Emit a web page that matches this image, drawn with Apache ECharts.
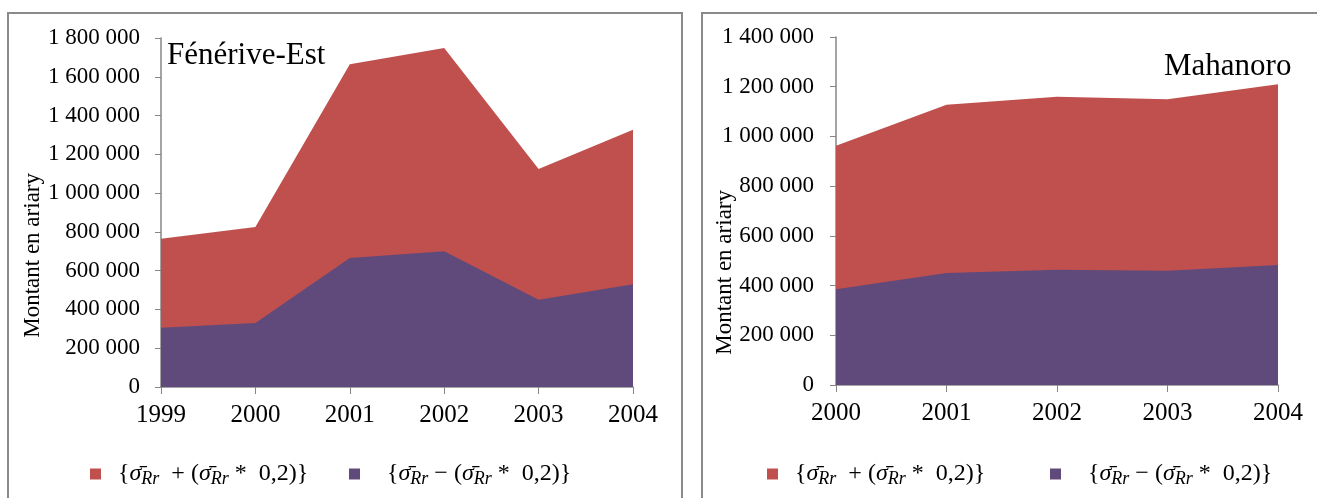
<!DOCTYPE html>
<html>
<head>
<meta charset="utf-8">
<script src="https://cdn.jsdelivr.net/npm/echarts@6/dist/echarts.min.js"></script>
<style>
  body { margin:0; background:#fff; width:1317px; height:498px; overflow:hidden; position:relative; }
  .panel { position:absolute; border:2px solid #8a8a8a; background:#fff; }
  #left { left:7px; top:12px; width:672px; height:500px; }
  #right { left:701px; top:12px; width:640px; height:500px; }
  .chart { width:100%; height:100%; }
</style>
</head>
<body>
<div class="panel" id="left"><div class="chart" id="chartLeft"></div></div>
<div class="panel" id="right"><div class="chart" id="chartRight"></div></div>
<script>
// Fénérive-Est
var yearsFen = ['1999', '2000', '2001', '2002', '2003', '2004'];
var hautFen = [765000, 825000, 1665000, 1748000, 1125000, 1327000];
var basFen = [305000, 330000, 665000, 700000, 450000, 530000];
// Mahanoro
var yearsMah = ['2000', '2001', '2002', '2003', '2004'];
var hautMah = [962000, 1127000, 1160000, 1150000, 1210000];
var basMah = [385000, 451000, 464000, 460000, 483000];

var nomHaut = 'haut';
var nomBas = 'bas';
var rouge = '#C0504D';
var violet = '#604A7B';
var serif = '"Liberation Serif", "Times New Roman", serif';

function milliers(v) {
  return String(v).replace(/\B(?=(\d{3})+(?!\d))/g, ' ');
}

// texte de légende : {σ̄Rr + (σ̄Rr * 0,2)}
function legende(name) {
  if (name === nomHaut) return '{b|{}{s|σ̄}{r|Rr}{b|  + (}{s|σ̄}{r|Rr}{b| *  0,2)}}';
  return '{b|{}{s|σ̄}{r|Rr}{b| − (}{s|σ̄}{r|Rr}{b| *  0,2)}}';
}

var richLeg = {
  b: { fontFamily: serif, fontSize: 24, color: '#000' },
  s: { fontFamily: serif, fontStyle: 'italic', fontSize: 24, color: '#000' },
  r: { fontFamily: serif, fontStyle: 'italic', fontSize: 18, color: '#000', padding: [10, 0, 0, 0] }
};

function makeOption(cfg) {
  return {
    animation: false,
    textStyle: { fontFamily: serif },
    title: {
      text: cfg.titre,
      left: cfg.titreLeft,
      top: cfg.titreTop,
      textStyle: { fontFamily: serif, fontWeight: 'normal', fontSize: 31, color: '#000' }
    },
    legend: [
      {
        data: [nomHaut], left: cfg.leg1, top: 443, icon: 'rect', itemWidth: 11, itemHeight: 11,
        formatter: legende,
        textStyle: { fontFamily: serif, fontSize: 24, color: '#000', rich: richLeg, padding: [0, 0, 0, 12] }
      },
      {
        data: [nomBas], left: cfg.leg2, top: 443, icon: 'rect', itemWidth: 11, itemHeight: 11,
        formatter: legende,
        textStyle: { fontFamily: serif, fontSize: 24, color: '#000', rich: richLeg, padding: [0, 0, 0, 22] }
      }
    ],
    grid: { left: cfg.gl, top: cfg.gt, width: cfg.gw, height: cfg.gh },
    graphic: [{
      type: 'text', left: cfg.nameX, top: cfg.nameY, rotation: Math.PI / 2,
      style: { text: 'Montant en ariary', font: '23px ' + serif, fill: '#000' }
    }],
    xAxis: {
      type: 'category',
      data: cfg.years,
      boundaryGap: false,
      axisLine: { lineStyle: { color: '#868686', width: 1.5 } },
      axisTick: { show: true, length: 7, lineStyle: { color: '#868686' } },
      axisLabel: { color: '#000', fontSize: 25, margin: 16, fontFamily: serif }
    },
    yAxis: {
      type: 'value',
      min: 0,
      max: cfg.max,
      interval: 200000,
      axisLine: { show: true, lineStyle: { color: '#868686', width: 1.5 } },
      axisTick: { show: true, length: 6, lineStyle: { color: '#868686' } },
      splitLine: { show: false },
      axisLabel: { color: '#000', fontSize: 23, margin: cfg.ym, fontFamily: serif, formatter: milliers }
    },
    series: [
      {
        name: nomHaut, type: 'line', data: cfg.haut, symbol: 'none',
        lineStyle: { width: 0 }, itemStyle: { color: rouge },
        areaStyle: { color: rouge, opacity: 1 }
      },
      {
        name: nomBas, type: 'line', data: cfg.bas, symbol: 'none',
        lineStyle: { width: 0 }, itemStyle: { color: violet },
        areaStyle: { color: violet, opacity: 1 }
      }
    ]
  };
}

var chartLeft = echarts.init(document.getElementById('chartLeft'));
chartLeft.setOption(makeOption({
  titre: 'Fénérive-Est', titreLeft: 153, titreTop: 21,
  years: yearsFen, haut: hautFen, bas: basFen, max: 1800000,
  gl: 152, gt: 24, gw: 472, gh: 349, ym: 21,
  nameX: 12, nameY: 159, leg1: 76, leg2: 335
}));

var chartRight = echarts.init(document.getElementById('chartRight'));
chartRight.setOption(makeOption({
  titre: 'Mahanoro', titreLeft: 456, titreTop: 32,
  years: yearsMah, haut: hautMah, bas: basMah, max: 1400000,
  gl: 133, gt: 23, gw: 442, gh: 348, ym: 22,
  nameX: 10, nameY: 176, leg1: 59, leg2: 342
}));
</script>
</body>
</html>
